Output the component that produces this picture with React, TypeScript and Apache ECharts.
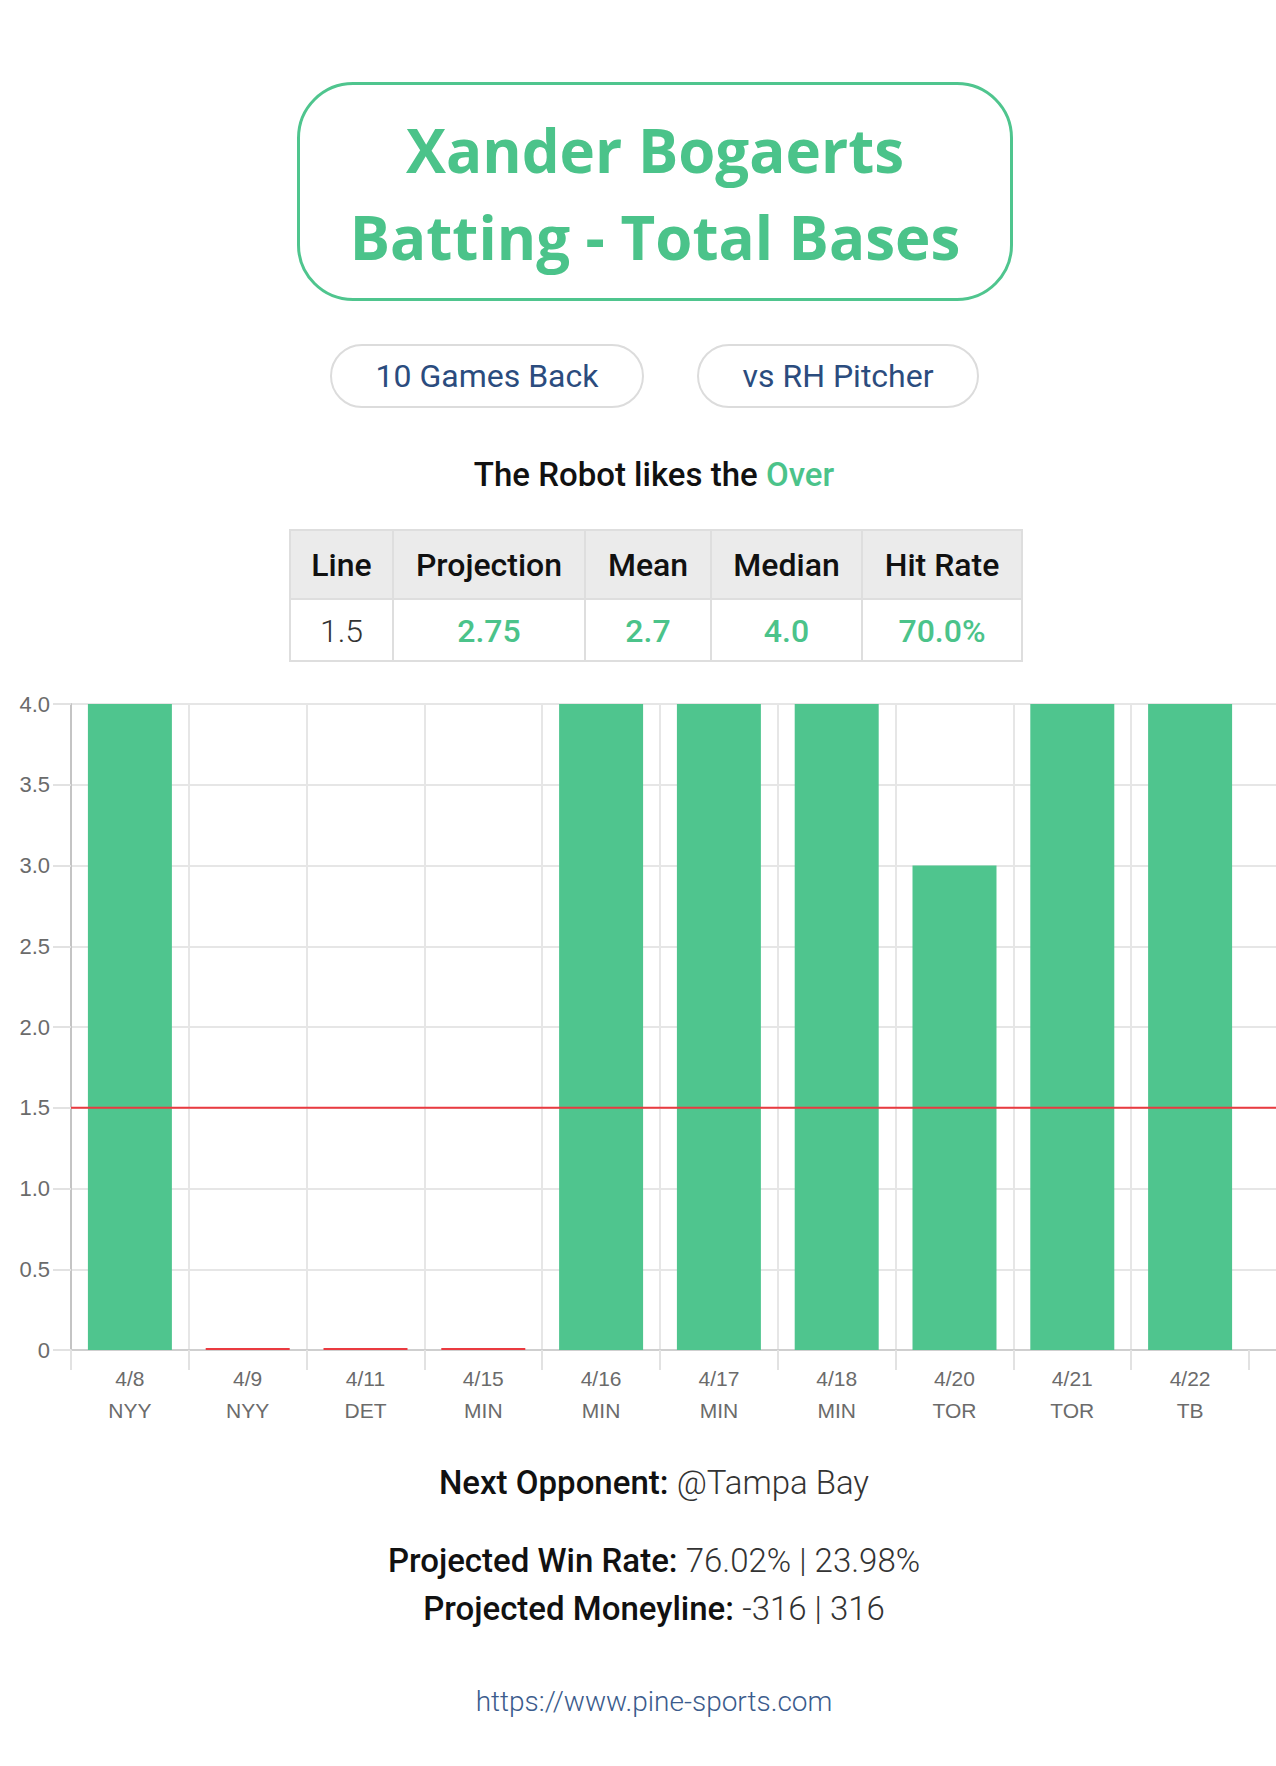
import React, { useEffect, useRef } from "react";
import * as echarts from "echarts";

const DATES = ["4/8", "4/9", "4/11", "4/15", "4/16", "4/17", "4/18", "4/20", "4/21", "4/22"];
const TEAMS = ["NYY", "NYY", "DET", "MIN", "MIN", "MIN", "MIN", "TOR", "TOR", "TB"];
const TOTAL_BASES = [4, 0, 0, 0, 4, 4, 4, 3, 4, 4];
const PROP_LINE = 1.5;
const Y_TICKS = [0, 0.5, 1, 1.5, 2, 2.5, 3, 3.5, 4];

const TABLE_HEAD = ["Line", "Projection", "Mean", "Median", "Hit Rate"];
const TABLE_VALUES = ["1.5", "2.75", "2.7", "4.0", "70.0%"];
const COL_WIDTHS = [103, 192, 126, 151, 160];

const GREEN = "#4fc58e";
const TEXT_GREEN = "#4bc38a";
const RED = "#ea3a40";

function Chart() {
  const ref = useRef<HTMLDivElement>(null);
  useEffect(() => {
    if (!ref.current) return;
    const chart = echarts.init(ref.current, undefined, { renderer: "svg" });
    const categories = DATES.map((d, i) => d + "\n" + TEAMS[i]);
    const yMax = Y_TICKS[Y_TICKS.length - 1];
    const yInterval = Y_TICKS[1] - Y_TICKS[0];
    const labelStyle = {
      color: "#6b6b6b",
      fontFamily: "'Liberation Sans', Arial, sans-serif",
    };
    chart.setOption({
      animation: false,
      grid: [
        { left: 71, right: 27, top: 44, bottom: 90 },
        { left: 71, right: 0, top: 44, bottom: 90 },
      ],
      xAxis: [
        {
          type: "category",
          gridIndex: 0,
          data: categories,
          boundaryGap: true,
          axisLine: { show: false },
          axisTick: { show: true, length: 20, lineStyle: { color: "#e2e2e2", width: 2 } },
          splitLine: {
            show: true,
            showMaxLine: false,
            lineStyle: { color: "#e6e6e6", width: 2 },
          },
          axisLabel: { ...labelStyle, fontSize: 21, lineHeight: 32, margin: 12, interval: 0 },
        },
        {
          type: "value",
          gridIndex: 1,
          min: 0,
          max: 1,
          axisLine: { show: true, onZero: false, lineStyle: { color: "#cfcfcf", width: 2 } },
          axisTick: { show: false },
          axisLabel: { show: false },
          splitLine: { show: false },
        },
      ],
      yAxis: [
        {
          type: "value",
          gridIndex: 0,
          min: 0,
          max: yMax,
          interval: yInterval,
          axisLine: { show: true, lineStyle: { color: "#c4c4c4", width: 2 } },
          axisTick: { show: true, length: 18, lineStyle: { color: "#e2e2e2", width: 2 } },
          splitLine: { show: false },
          axisLabel: {
            ...labelStyle,
            fontSize: 22,
            margin: 21,
            formatter: (v: number) => (v === 0 ? "0" : v.toFixed(1)),
          },
        },
        {
          type: "value",
          gridIndex: 1,
          min: 0,
          max: yMax,
          interval: yInterval,
          axisLine: { show: false },
          axisTick: { show: false },
          axisLabel: { show: false },
          splitLine: { show: true, lineStyle: { color: "#e6e6e6", width: 2 } },
        },
      ],
      series: [
        {
          type: "bar",
          xAxisIndex: 0,
          yAxisIndex: 0,
          data: TOTAL_BASES.map((v) => ({
            value: v,
            itemStyle: { color: v === 0 ? RED : GREEN },
          })),
          barWidth: "71.3%",
          barMinHeight: 2,
          z: 3,
        },
        {
          type: "line",
          xAxisIndex: 1,
          yAxisIndex: 1,
          data: [
            [0, PROP_LINE],
            [1, PROP_LINE],
          ],
          symbol: "none",
          lineStyle: { color: RED, width: 2 },
          silent: true,
          z: 4,
        },
      ],
    });
    return () => chart.dispose();
  }, []);
  return (
    <div
      ref={ref}
      style={{ position: "absolute", left: 0, top: 660, width: 1276, height: 780 }}
    />
  );
}

export default function App() {
  const roboto = "Roboto, 'Noto Sans', sans-serif";
  const center = 654;
  const cell: React.CSSProperties = {
    border: "2px solid #dedede",
    textAlign: "center",
    padding: 0,
    fontFamily: roboto,
    fontSize: 32,
  };
  return (
    <div
      style={{
        position: "absolute",
        left: 0,
        top: 0,
        width: 1276,
        height: 1766,
        background: "#fff",
        overflow: "hidden",
      }}
    >
      {/* Title box */}
      <div
        style={{
          position: "absolute",
          left: 297,
          top: 82,
          width: 716,
          height: 219,
          boxSizing: "border-box",
          border: "3px solid " + GREEN,
          borderRadius: 56,
          display: "flex",
          flexDirection: "column",
          alignItems: "center",
          justifyContent: "center",
          fontFamily: "'Open Sans', sans-serif",
          fontWeight: 700,
          fontSize: 60,
          lineHeight: "87px",
          color: TEXT_GREEN,
          paddingTop: 4,
        }}
      >
        <div>Xander Bogaerts</div>
        <div>Batting - Total Bases</div>
      </div>

      {/* Buttons */}
      {[
        { label: "10 Games Back", left: 330, width: 314 },
        { label: "vs RH Pitcher", left: 697, width: 282 },
      ].map((b) => (
        <div
          key={b.label}
          style={{
            position: "absolute",
            left: b.left,
            top: 344,
            width: b.width,
            height: 64,
            boxSizing: "border-box",
            border: "2px solid #dcdcdc",
            borderRadius: 32,
            display: "flex",
            alignItems: "center",
            justifyContent: "center",
            fontFamily: roboto,
            fontSize: 32,
            color: "#2b4c7e",
          }}
        >
          {b.label}
        </div>
      ))}

      {/* Robot line */}
      <div
        style={{
          position: "absolute",
          left: 0,
          width: center * 2,
          top: 455,
          height: 40,
          lineHeight: "40px",
          textAlign: "center",
          fontFamily: roboto,
          fontWeight: 500,
          fontSize: 33,
          color: "#111",
        }}
      >
        The Robot likes the <span style={{ color: TEXT_GREEN }}>Over</span>
      </div>

      {/* Table */}
      <table
        style={{
          position: "absolute",
          left: 289,
          top: 529,
          width: 732,
          borderCollapse: "collapse",
          tableLayout: "fixed",
        }}
      >
        <colgroup>
          {COL_WIDTHS.map((w, i) => (
            <col key={i} style={{ width: w }} />
          ))}
        </colgroup>
        <tbody>
          <tr style={{ height: 69, background: "#ebebeb" }}>
            {TABLE_HEAD.map((h) => (
              <td key={h} style={{ ...cell, fontWeight: 500, color: "#111" }}>
                {h}
              </td>
            ))}
          </tr>
          <tr style={{ height: 62, background: "#fff" }}>
            {TABLE_VALUES.map((v, i) => (
              <td
                key={i}
                style={{
                  ...cell,
                  fontWeight: i === 0 ? 300 : 500,
                  color: i === 0 ? "#333" : TEXT_GREEN,
                  paddingTop: 2,
                }}
              >
                {v}
              </td>
            ))}
          </tr>
        </tbody>
      </table>

      <Chart />

      {/* Footer */}
      <div
        style={{
          position: "absolute",
          left: 0,
          width: center * 2,
          top: 1462,
          height: 42,
          lineHeight: "42px",
          textAlign: "center",
          fontFamily: roboto,
          fontSize: 33,
          color: "#111",
        }}
      >
        <span style={{ fontWeight: 500 }}>Next Opponent:</span>{" "}
        <span style={{ fontWeight: 300, color: "#333" }}>@Tampa Bay</span>
      </div>
      <div
        style={{
          position: "absolute",
          left: 0,
          width: center * 2,
          top: 1537,
          lineHeight: "48px",
          textAlign: "center",
          fontFamily: roboto,
          fontSize: 33,
          color: "#111",
        }}
      >
        <div>
          <span style={{ fontWeight: 500 }}>Projected Win Rate:</span>{" "}
          <span style={{ fontWeight: 300, color: "#333" }}>76.02% | 23.98%</span>
        </div>
        <div>
          <span style={{ fontWeight: 500 }}>Projected Moneyline:</span>{" "}
          <span style={{ fontWeight: 300, color: "#333" }}>-316 | 316</span>
        </div>
      </div>
      <div
        style={{
          position: "absolute",
          left: 0,
          width: center * 2,
          top: 1682,
          height: 40,
          lineHeight: "40px",
          textAlign: "center",
          fontFamily: roboto,
          fontWeight: 300,
          fontSize: 28,
          color: "#3b5b8c",
        }}
      >
        https://www.pine-sports.com
      </div>
    </div>
  );
}
